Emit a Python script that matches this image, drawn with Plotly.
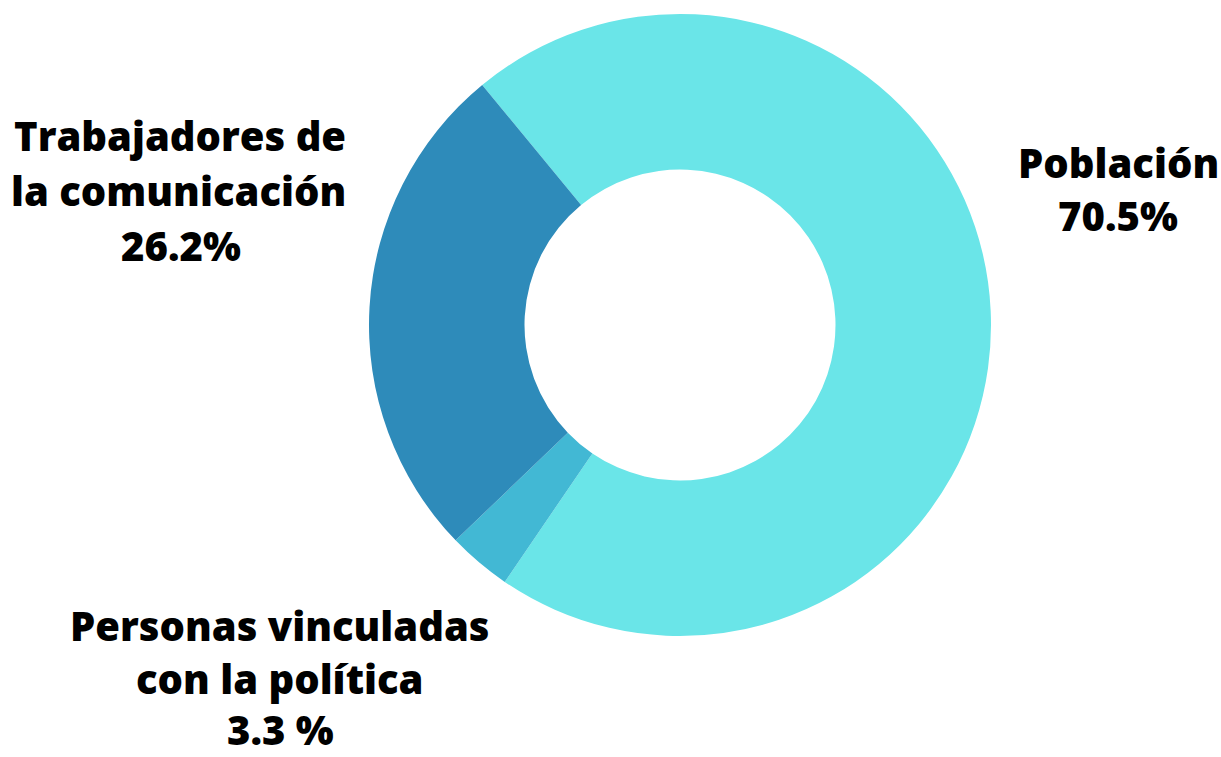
import plotly.graph_objects as go

labels = ["Población", "Personas vinculadas con la política", "Trabajadores de la comunicación"]
values = [70.5, 3.3, 26.2]
colors = ["#6AE5E8", "#42B8D4", "#2E8BBA"]

# label lines: (text, x centre, baseline y) in pixels of the 1221x757 picture
label_lines = [
    ("Población", 1118, 177), ("70.5%", 1118, 230),
    ("Personas vinculadas", 280, 640), ("con la política", 280, 693), ("3.3 %", 280, 744),
    ("Trabajadores de", 180, 150), ("la comunicación", 178, 205), ("26.2%", 181, 260),
]

W, H = 1221, 757
cx, cy, r = 680, 325, 311
FS = 40

fig = go.Figure(go.Pie(
    labels=labels, values=values, sort=False, direction="clockwise",
    rotation=-39.5, hole=0.5, textinfo="none", hoverinfo="label+percent",
    marker=dict(colors=colors, line=dict(width=0)),
    domain=dict(x=[(cx - r) / W, (cx + r) / W], y=[1 - (cy + r) / H, 1 - (cy - r) / H]),
    showlegend=False,
))

for t, x, yb in label_lines:
    ym = yb - 0.36 * FS  # middle of cap height
    fig.add_annotation(text=t, x=x / W, y=1 - ym / H, xref="paper", yref="paper",
                       showarrow=False, xanchor="center", yanchor="middle", align="center",
                       font=dict(family="Open Sans", size=FS, color="black", weight=800))

fig.update_layout(width=W, height=H, margin=dict(l=0, r=0, t=0, b=0),
                  paper_bgcolor="white", plot_bgcolor="white")
fig.write_html("out.html", config={"displayModeBar": False},
               post_script="document.body.style.margin='0';document.body.style.overflow='hidden';")
